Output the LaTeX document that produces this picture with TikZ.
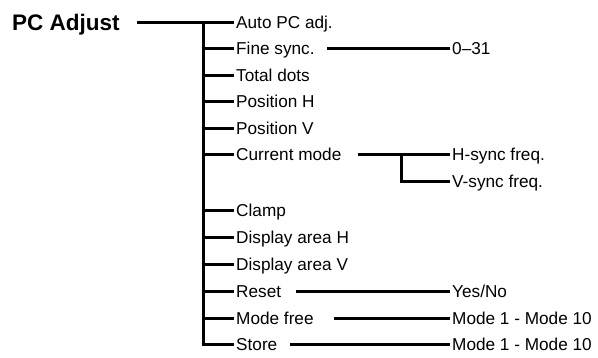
\documentclass[tikz,border=0pt]{standalone}
\usepackage{fontspec}
\setmainfont{Liberation Sans}
\usetikzlibrary{positioning}
\tikzset{
  item/.style={anchor=west, inner xsep=2pt, inner ysep=0pt, text height=12.4pt, text depth=0pt, font=\fontsize{17.2}{20}\selectfont},
  title/.style={anchor=west, inner sep=0pt, text height=16pt, text depth=0pt, font=\bfseries\fontsize{22.5}{25}\selectfont},
  wire/.style={line width=3pt},
}
\begin{document}
\begin{tikzpicture}[x=1pt, y=-1pt]
	\useasboundingbox (0,0) rectangle (598,357);
	% Menu items:
	\node[title] (pcadj) at (12, 22){PC Adjust};
	\node[item] (autopc) at (234, 22){Auto PC adj.};
	\node[item] (fine) at (234, 48.5){Fine sync.};
	\node[item] (total) at (234, 75){Total dots};
	\node[item] (posh) at (234, 101.5){Position H};
	\node[item] (posv) at (234, 128){Position V};
	\node[item] (curmode) at (234, 154.5){Current mode};
	\node[item] (clamp) at (234, 210){Clamp};
	\node[item] (disph) at (234, 237){Display area H};
	\node[item] (dispv) at (234, 264){Display area V};
	\node[item] (reset) at (234, 291){Reset};
	\node[item] (modefree) at (234, 318){Mode free};
	\node[item] (store) at (234, 344){Store};
	% Values:
	\node[item] (range) at (450, 48.5){0--31};
	\node[item] (hsync) at (450, 154.5){H-sync freq.};
	\node[item] (vsync) at (450, 181){V-sync freq.};
	\node[item] (yesno) at (450, 291){Yes/No};
	\node[item] (modesa) at (450, 318){Mode 1 - Mode 10};
	\node[item] (modesb) at (450, 344){Mode 1 - Mode 10};
	% Wires:
	\coordinate (spine) at (203, 22);
	\coordinate (subspine) at (401, 154.5);
	\draw[wire] ([xshift=17.5pt]pcadj.east) -- (autopc.west);
	\draw[wire] (spine) |- (store.west);
	\foreach \n in {fine, total, posh, posv, curmode, clamp, disph, dispv, reset, modefree}
		\draw[wire] (spine |- \n.west) -- (\n.west);
	\draw[wire] ([xshift=10pt]fine.east) -- (range.west);
	\draw[wire] ([xshift=14pt]curmode.east) -- (hsync.west);
	\draw[wire] (subspine) |- (vsync.west);
	\draw[wire] ([xshift=13pt]reset.east) -- (yesno.west);
	\draw[wire] ([xshift=18pt]modefree.east) -- (modesa.west);
	\draw[wire] ([xshift=10pt]store.east) -- (modesb.west);
\end{tikzpicture}
\end{document}
